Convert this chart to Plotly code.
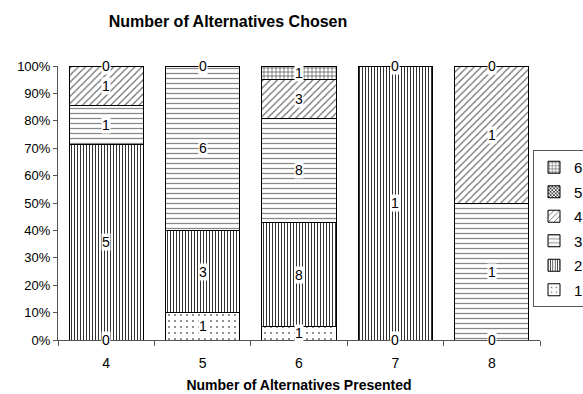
import plotly.graph_objects as go

# Number of alternatives presented (x categories)
categories = ["4", "5", "6", "7", "8"]

# Counts of alternatives chosen, one list per series (1..6)
series_names = ["1", "2", "3", "4", "5", "6"]
chosen_1 = [0, 1, 1, 0, 0]
chosen_2 = [5, 3, 8, 1, 0]
chosen_3 = [1, 6, 8, 0, 1]
chosen_4 = [1, 0, 3, 0, 1]
chosen_5 = [0, 0, 0, 0, 0]
chosen_6 = [0, 0, 1, 0, 0]

series_values = [chosen_1, chosen_2, chosen_3, chosen_4, chosen_5, chosen_6]

# Fill pattern per series: (shape, size, solidity, fg colour)
patterns = [
    (".", 6, 0.08, "#666666"),
    ("|", 3, 0.35, "#333333"),
    ("-", 5, 0.25, "#888888"),
    ("/", 5, 0.22, "#666666"),
    ("x", 3, 0.5, "#222222"),
    ("+", 4, 0.3, "#444444"),
]

FONT = "Liberation Sans, Arial, sans-serif"

fig = go.Figure()
n = len(series_names)
for i, (name, vals, (shape, size, sol, fg)) in enumerate(
        zip(series_names, series_values, patterns)):
    fig.add_trace(go.Bar(
        x=categories, y=vals, name=name,
        legendgroup=name,
        legendrank=n - i,
        marker=dict(
            color="white",
            line=dict(color="black", width=1),
            pattern=dict(shape=shape, size=size, solidity=sol,
                         fgcolor=fg, bgcolor="white", fillmode="replace"),
        ),
        hoverinfo="skip",
    ))

# Data labels at the centre of each segment (value labels on 100% stacked bars)
totals = [sum(col) for col in zip(*series_values)]
annotations = []
for ci, cat in enumerate(categories):
    cum = 0.0
    placed_zero = set()
    for vals in series_values:
        v = vals[ci]
        frac = v / totals[ci]
        if v > 0:
            annotations.append((ci, cum + frac / 2, str(v)))
        else:
            pos = round(cum, 6)
            if (pos == 0 or pos == 1) and pos not in placed_zero:
                placed_zero.add(pos)
                annotations.append((ci, pos, "0"))
        cum += frac

for ci, yv, txt in annotations:
    fig.add_annotation(
        x=ci, y=yv, text=txt, showarrow=False,
        xref="x", yref="y",
        font=dict(family=FONT, size=14, color="black"),
        bgcolor="white", borderpad=0,
    )

fig.update_layout(
    barmode="stack",
    barnorm="fraction",
    bargap=0.23,
    width=583, height=394,
    margin=dict(l=58, r=43, t=66, b=54, autoexpand=False),
    paper_bgcolor="white",
    plot_bgcolor="white",
    font=dict(family=FONT, size=13, color="black"),
    title=dict(
        text="<b>Number of Alternatives Chosen</b>",
        font=dict(family=FONT, size=16, color="black"),
        x=228 / 583, xref="container", xanchor="center",
        y=1 - 21 / 394, yref="container", yanchor="middle",
    ),
    xaxis=dict(
        type="category",
        range=[-0.5, 4.5],
        showline=True, linecolor="#555555", linewidth=1,
        ticks="outside", ticklen=5, tickcolor="#555555",
        tickson="boundaries",
        ticklabelstandoff=10,
        tickfont=dict(family=FONT, size=14),
        showgrid=False,
        title=dict(text="<b>Number of Alternatives Presented</b>",
                   font=dict(family=FONT, size=14), standoff=10),
    ),
    yaxis=dict(
        range=[0, 1],
        dtick=0.1, tickformat=".0%",
        showline=True, linecolor="#555555", linewidth=1,
        ticks="outside", ticklen=4, tickcolor="#555555",
        tickfont=dict(family=FONT, size=13),
        showgrid=False, zeroline=False,
    ),
    legend=dict(
        traceorder="grouped",
        x=(533 - 58) / 482, xanchor="left",
        y=(340 - 150) / 274, yanchor="top",
        bordercolor="#555555", borderwidth=1,
        font=dict(family=FONT, size=15),
        itemwidth=30,
        tracegroupgap=2,
        bgcolor="white",
    ),
)

fig.write_html("out.html")
